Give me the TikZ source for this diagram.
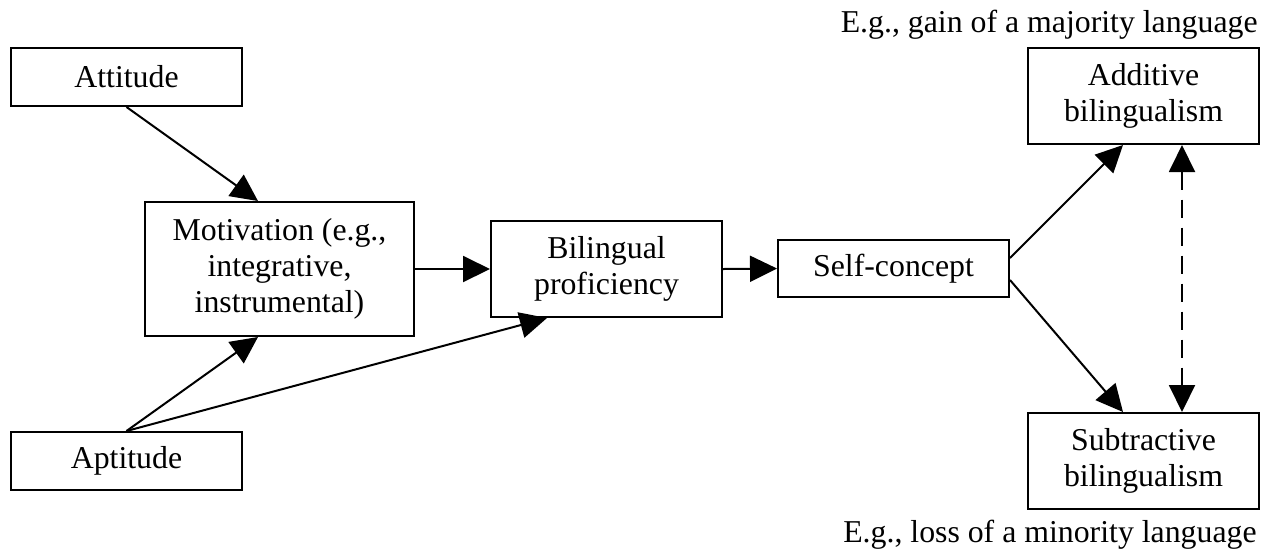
\documentclass[tikz,border=0pt]{standalone}
\usepackage{fontspec}
\setmainfont{Liberation Serif}
\usetikzlibrary{arrows.meta}

\tikzset{
  block/.style={draw, line width=1pt, inner sep=0pt, align=center,
    minimum width=115.5pt, font=\fontsize{15.9}{18}\selectfont},
  note/.style={inner sep=0pt, font=\fontsize{15.9}{18}\selectfont},
  link/.style={line width=1pt, -{Triangle[length=13.5pt,width=13pt]}},
  twoway/.style={line width=1pt, dash pattern=on 9pt off 5pt,
    {Triangle[length=13.5pt,width=13pt]}-{Triangle[length=13.5pt,width=13pt]}}
}

\begin{document}
\begin{tikzpicture}[x=0.5pt, y=-0.5pt]
  \useasboundingbox (0,0) rectangle (1264,554);

  \node (att) [block, minimum height=29pt] at (126.5,77) {Attitude};
  \node (mot) [block, minimum width=134.5pt, minimum height=67pt] at (279.5,269)
    {Motivation (e.g.,\\ integrative,\\ instrumental)};
  \node (apt) [block, minimum height=29pt] at (126.5,461) {Aptitude};
  \node (bil) [block, minimum height=48pt] at (606.5,269) {Bilingual\\ proficiency};
  \node (self) [block, minimum height=28.5pt] at (893.5,268.5) {Self-concept};
  \node (add) [block, minimum height=48pt] at (1143.5,96) {Additive\\ bilingualism};
  \node (sub) [block, minimum height=48pt] at (1143.5,461) {Subtractive\\ bilingualism};

  \node (gain) [note, anchor=base east] at (1258,32) {E.g., gain of a majority language};
  \node (loss) [note, anchor=base east] at (1257,542) {E.g., loss of a minority language};

  \path
  (att.south) edge[link] ([xshift=-10.75pt]mot.north)
  (apt.north) edge[link] ([xshift=-10.75pt]mot.south)
  (apt.north) edge[link] ([xshift=-29.75pt]bil.south)
  (mot.east) edge[link] (bil.west)
  (bil.east) edge[link] (self.west)
  ([yshift=5.25pt]self.east) edge[link] ([xshift=-10.25pt]add.south)
  ([yshift=-5.75pt]self.east) edge[link] ([xshift=-10.25pt]sub.north)
  ([xshift=19.25pt]add.south) edge[twoway] ([xshift=19.25pt]sub.north);
\end{tikzpicture}
\end{document}
